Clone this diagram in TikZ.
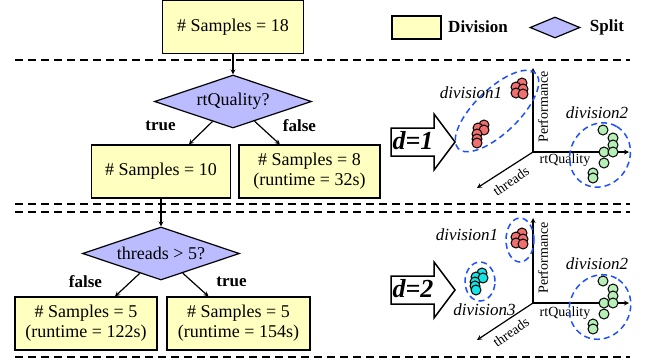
\documentclass[tikz,border=0pt]{standalone}
\usepackage{fontspec}
\setmainfont{Liberation Serif}
\usetikzlibrary{shapes.geometric}
\definecolor{divfill}{RGB}{255,255,192}
\definecolor{splitfill}{RGB}{187,187,255}
\definecolor{ptred}{RGB}{240,112,112}
\definecolor{ptgreen}{RGB}{182,240,182}
\definecolor{ptcyan}{RGB}{20,228,228}
\definecolor{ringblue}{RGB}{30,80,255}
\tikzset{%
    division/.style={draw, line width=1.2pt, fill=divfill, minimum width=141pt, minimum height=53pt, inner sep=0pt, align=center, font=\fontsize{18}{20}\selectfont},
    split/.style={draw, diamond, line width=1.2pt, fill=splitfill, minimum width=157pt, minimum height=53pt, aspect=2.96, inner sep=0pt, font=\fontsize{18}{20}\selectfont},
    branch/.style={font=\bfseries\fontsize{17}{20}\selectfont},
    flow/.style={-stealth, line width=1.2pt},
    sepline/.style={line width=1.4pt, dash pattern=on 8pt off 5pt},
    axis/.style={-stealth, line width=1.2pt},
    axlabel/.style={font=\fontsize{14}{16}\selectfont, inner sep=0pt},
    divname/.style={font=\itshape\fontsize{17}{20}\selectfont, inner sep=0pt},
    ring/.style={draw=ringblue, ellipse, line width=1.5pt, dash pattern=on 6pt off 4pt, inner sep=0pt},
    bigarrow/.style={draw, line width=1.5pt, fill=white},
}

\begin{document}
\begin{tikzpicture}[x=1pt, y=-1pt]
	\useasboundingbox (0,0) rectangle (646,362);

	% separators
	\draw[sepline] (15,60) -- (630,60);
	\draw[sepline] (15,204) -- (630,204);
	\draw[sepline] (15,212) -- (630,212);
	\draw[sepline] (15,357) -- (630,357);

	% legend
	\node[division, minimum width=49pt, minimum height=23pt](lbox) at (416.5,27.5) {};
	\node[branch](ldiv) at (478,27) {Division};
	\node[split, minimum width=50pt, minimum height=21pt, aspect=2.4](lsplit) at (555,27.5) {};
	\node[branch](lspl) at (607,27) {Split};

	% tree
	\node[division](all) at (233,27) {\# Samples = 18};
	\node[split](q1) at (233,101.5) {rtQuality?};
	\node[division, minimum width=139pt](s10) at (161,171.5) {\# Samples = 10};
	\node[division](s8) at (309.5,171.5) {\# Samples = 8\\(runtime = 32s)};
	\node[branch](t1) at (160.5,126) {true};
	\node[branch](f1) at (299.5,126) {false};

	\node[split](q2) at (161,253.5) {threads > 5?};
	\node[division, minimum width=142pt](s5a) at (86,323.5) {\# Samples = 5\\(runtime = 122s)};
	\node[division, minimum width=143pt](s5b) at (238.5,323.5) {\# Samples = 5\\(runtime = 154s)};
	\node[branch](f2) at (85.5,282) {false};
	\node[branch](t2) at (231.5,282) {true};

	\draw[flow] (all) to (q1);
	\draw[flow] (q1) to (s10);
	\draw[flow] (q1) to (s8);
	\draw[flow] (s10) to (q2);
	\draw[flow] (q2) to (s5a);
	\draw[flow] (q2) to (s5b);

	% d=1
	\draw[bigarrow] (391,128) -- (434,128) -- (434,114) -- (455,142) -- (434,170) -- (434,156) -- (391,156) -- cycle;
	\node[font=\bfseries\itshape\fontsize{26}{28}\selectfont, inner sep=0pt](k1) at (413,141) {d=1};

	\coordinate(o1) at (533,152);
	\coordinate(perf1) at (533,68);
	\coordinate(rtq1) at (629,152);
	\coordinate(thr1) at (477,188);
	\draw[axis] (o1) to (perf1);
	\draw[axis] (o1) to (rtq1);
	\draw[axis] (o1) to (thr1);
	\node[axlabel, rotate=90](lperf1) at (543,107) {Performance};
	\node[axlabel](lrtq1) at (565,160) {rtQuality};
	\node[axlabel, rotate=35](lthr1) at (511,181) {threads};

	\node[ring, minimum width=108pt, minimum height=44pt, rotate=44](r11) at (497,111) {};
	\node[ring, minimum width=66pt, minimum height=59pt, rotate=60](r12) at (600,155) {};
	\node[divname](n11) at (471,93) {division1};
	\node[divname](n12) at (597,113) {division2};

	\draw[fill=ptred, line width=1pt] (522,83) circle (5); \draw[fill=ptred, line width=1pt] (516,87) circle (5);
	\draw[fill=ptred, line width=1pt] (523,89) circle (5); \draw[fill=ptred, line width=1pt] (516,93) circle (5);
	\draw[fill=ptred, line width=1pt] (523,94) circle (5);
	\draw[fill=ptred, line width=1pt] (484,125) circle (5); \draw[fill=ptred, line width=1pt] (478,128) circle (5);
	\draw[fill=ptred, line width=1pt] (484,130) circle (5); \draw[fill=ptred, line width=1pt] (477,134) circle (5);
	\draw[fill=ptred, line width=1pt] (477,139) circle (5); \draw[fill=ptred, line width=1pt] (477,143) circle (5);
	\draw[fill=ptgreen, line width=1pt] (603,130) circle (5); \draw[fill=ptgreen, line width=1pt] (613,138) circle (5);
	\draw[fill=ptgreen, line width=1pt] (613,145) circle (5); \draw[fill=ptgreen, line width=1pt] (604,152) circle (5);
	\draw[fill=ptgreen, line width=1pt] (613,152) circle (5); \draw[fill=ptgreen, line width=1pt] (604,163) circle (5);
	\draw[fill=ptgreen, line width=1pt] (593,173) circle (5); \draw[fill=ptgreen, line width=1pt] (593,178) circle (5);

	% d=2
	\draw[bigarrow] (391,276) -- (434,276) -- (434,262) -- (455,290) -- (434,318) -- (434,304) -- (391,304) -- cycle;
	\node[font=\bfseries\itshape\fontsize{26}{28}\selectfont, inner sep=0pt](k2) at (413,289) {d=2};

	\coordinate(o2) at (533,303);
	\coordinate(perf2) at (533,218);
	\coordinate(rtq2) at (629,303);
	\coordinate(thr2) at (477,340);
	\draw[axis] (o2) to (perf2);
	\draw[axis] (o2) to (rtq2);
	\draw[axis] (o2) to (thr2);
	\node[axlabel, rotate=90](lperf2) at (543,258) {Performance};
	\node[axlabel](lrtq2) at (565,313) {rtQuality};
	\node[axlabel, rotate=35](lthr2) at (511,332) {threads};

	\node[ring, minimum width=28pt, minimum height=44pt](r21) at (520,240) {};
	\node[ring, minimum width=30pt, minimum height=39pt](r23) at (480,281.5) {};
	\node[ring, minimum width=66pt, minimum height=60pt, rotate=60](r22) at (600,307) {};
	\node[divname](n21) at (467,235) {division1};
	\node[divname](n23) at (484.5,310) {division3};
	\node[divname](n22) at (597,264) {division2};

	\draw[fill=ptred, line width=1pt] (522,233) circle (5); \draw[fill=ptred, line width=1pt] (516,237) circle (5);
	\draw[fill=ptred, line width=1pt] (523,239) circle (5); \draw[fill=ptred, line width=1pt] (516,243) circle (5);
	\draw[fill=ptred, line width=1pt] (523,244) circle (5);
	\draw[fill=ptcyan, line width=1pt] (482,273) circle (5); \draw[fill=ptcyan, line width=1pt] (476,277) circle (5);
	\draw[fill=ptcyan, line width=1pt] (483,278) circle (5); \draw[fill=ptcyan, line width=1pt] (475,282) circle (5);
	\draw[fill=ptcyan, line width=1pt] (475,286) circle (5); \draw[fill=ptcyan, line width=1pt] (476,290) circle (5);
	\draw[fill=ptgreen, line width=1pt] (603,281) circle (5); \draw[fill=ptgreen, line width=1pt] (613,289) circle (5);
	\draw[fill=ptgreen, line width=1pt] (613,296) circle (5); \draw[fill=ptgreen, line width=1pt] (604,303) circle (5);
	\draw[fill=ptgreen, line width=1pt] (613,303) circle (5); \draw[fill=ptgreen, line width=1pt] (604,314) circle (5);
	\draw[fill=ptgreen, line width=1pt] (593,324) circle (5); \draw[fill=ptgreen, line width=1pt] (593,329) circle (5);
\end{tikzpicture}
\end{document}
